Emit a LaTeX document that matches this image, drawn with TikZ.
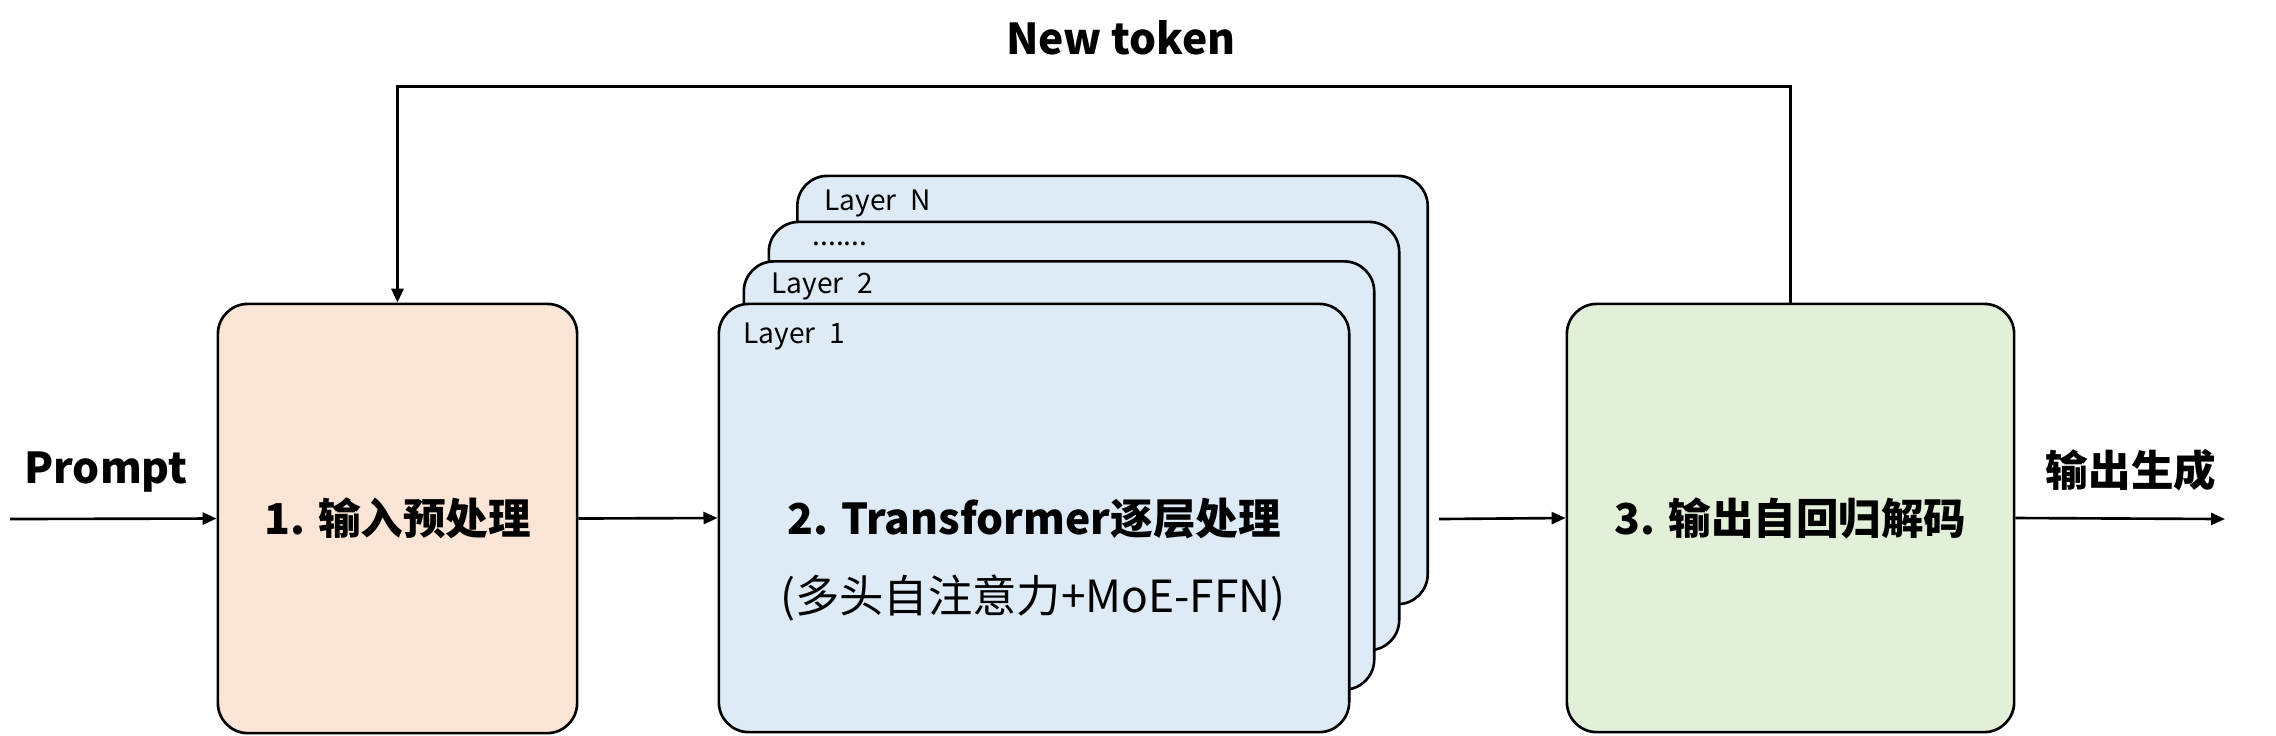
\documentclass[tikz,border=0pt]{standalone}
\usepackage{fontspec}
\setmainfont{Noto Sans CJK SC}
\usetikzlibrary{arrows.meta}
\definecolor{peach}{RGB}{251,229,214}
\definecolor{lblue}{RGB}{222,235,247}
\definecolor{lgreen}{RGB}{226,240,217}
\begin{document}
\begin{tikzpicture}[x=0.01cm,y=-0.01cm,
  box/.style={draw=black, line width=0.75pt, rounded corners=0.3cm, inner sep=0pt},
  layerbox/.style={box, fill=lblue, minimum width=6.30cm, minimum height=4.28cm},
  arr/.style={-{Triangle[length=0.14cm,width=0.12cm]}, line width=0.75pt},
  big/.style={font=\bfseries\fontsize{12.1}{14}\selectfont},
  bigreg/.style={font=\fontsize{12.6}{14}\selectfont},
  lbl/.style={font=\fontsize{8}{10}\selectfont, anchor=base west, inner sep=0pt}]
\useasboundingbox (0,0) rectangle (2276,735);

% boxes
\node[box, fill=peach, minimum width=3.59cm, minimum height=4.29cm, big] (b1) at (397.5,518.5) {1. 输入预处理};
\node[layerbox] (LN) at (1112.5,390) {};
\node[layerbox] (LD) at (1084,436) {};
\node[layerbox] (L2) at (1059,475.5) {};
\node[layerbox] (L1) at (1034,518) {};
\node[box, fill=lgreen, minimum width=4.47cm, minimum height=4.28cm, big] (b3) at (1790.5,518) {3. 输出自回归解码};

% layer labels
\node[lbl] (tN) at (824,210) {Layer\hspace{0.5em}N};
\node[lbl] (tD) at (812,245) {.......};
\node[lbl] (t2) at (771,293) {Layer\hspace{0.5em}2};
\node[lbl] (t1) at (743,343) {Layer\hspace{0.5em}1};

% main texts
\node[big] (m2) at (1034,519) {2. Transformer逐层处理};
\node[bigreg] (s2) at (1033,598) {(多头自注意力+MoE-FFN)};

% outside labels
\node[big, anchor=base] (prompt) at (106,483) {Prompt};
\node[big] (out) at (2131,470) {输出生成};
\node[big] (newtok) at (1121,38) {New token};

% connectors
\coordinate (pin) at (10,519);
\coordinate (lout) at (1439,519);
\coordinate (pout) at (2225,519);
\coordinate (top) at (1100,86);
\draw[arr] (pin) -- (b1.west);
\draw[arr] (b1.east) -- (L1.west);
\draw[arr] (lout) -- (b3.west);
\draw[arr] (b3.east) -- (pout);
\draw[arr, line width=0.85pt] (b3.north) |- (top) -| (b1.north);
\end{tikzpicture}
\end{document}
